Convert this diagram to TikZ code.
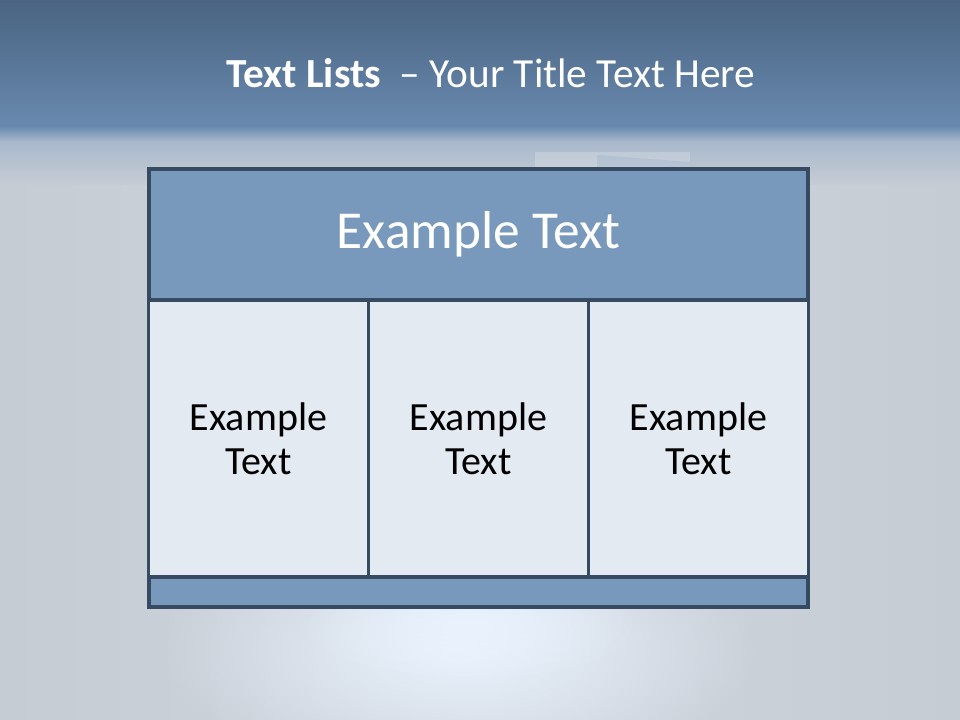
\documentclass[tikz,border=0pt]{standalone}
\usepackage{fontspec}
\setmainfont{Carlito}
\usetikzlibrary{fadings}
\definecolor{bgmid}{HTML}{D0D6DE}
\definecolor{bgside}{HTML}{C6CCD4}
\definecolor{bandtop}{HTML}{4A6482}
\definecolor{bandbot}{HTML}{6889AE}
\definecolor{bandlight}{HTML}{A9B9CC}
\definecolor{framec}{HTML}{364B62}
\definecolor{hdrfill}{HTML}{7899BC}
\definecolor{cellfill}{HTML}{E3EAF1}
\definecolor{glow}{HTML}{E9F2FD}
\tikzfading[name=softglow, inner color=transparent!0, outer color=transparent!100]
\tikzset{
  panel/.style={draw=framec, line width=2.4pt, inner sep=0pt},
  hdrbox/.style={panel, fill=hdrfill, minimum width=494.25pt, minimum height=98.25pt},
  cellbox/.style={panel, fill=cellfill, minimum width=165pt, minimum height=207.75pt},
  footbox/.style={panel, fill=hdrfill, minimum width=494.25pt, minimum height=22.5pt},
  hdrtext/.style={text=white, font=\fontsize{40}{46}\selectfont},
  celltext/.style={text=black, align=center, font=\fontsize{30}{33}\selectfont},
  titletext/.style={text=white, font=\fontsize{31}{36}\selectfont, anchor=base}
}
\begin{document}
\begin{tikzpicture}[x=0.75pt, y=-0.75pt]
\useasboundingbox (0,0) rectangle (960,720);
% background
\shade[left color=bgside, right color=bgside, middle color=bgmid] (0,0) rectangle (960,720);
\fill[glow, path fading=softglow, fit fading=true] (460,650) ellipse (300 and 130);
\fill[glow, path fading=softglow, fit fading=true] (470,625) ellipse (170 and 60);
\shade[top color=bandtop, bottom color=bandbot] (0,0) rectangle (960,126);
\shade[top color=bandbot, bottom color=bandlight] (0,126) rectangle (960,142);
\shade[top color=bandlight, bottom color=bgside] (0,142) rectangle (960,185);
% faint decorative shape behind
\fill[white, opacity=0.2] (535,152) rectangle (690,172);
\fill[hdrfill, opacity=0.2] (597,155) -- (690,162) -- (690,172) -- (597,172) -- cycle;
% title
\node[titletext] (title) at (491,88) {\textbf{Text Lists}\ \ – Your Title Text Here};
% table
\node[hdrbox] (hdr) at (478.5,234.5) {};
\node[cellbox] (c1) at (258.5,438.5) {};
\node[cellbox] (c2) at (478.5,438.5) {};
\node[cellbox] (c3) at (698.5,438.5) {};
\node[footbox] (foot) at (478.5,592) {};
\node[hdrtext] (ht) at (hdr.center) {Example Text};
\node[celltext] (t1) at (c1.center) {Example\\Text};
\node[celltext] (t2) at (c2.center) {Example\\Text};
\node[celltext] (t3) at (c3.center) {Example\\Text};
\end{tikzpicture}
\end{document}
